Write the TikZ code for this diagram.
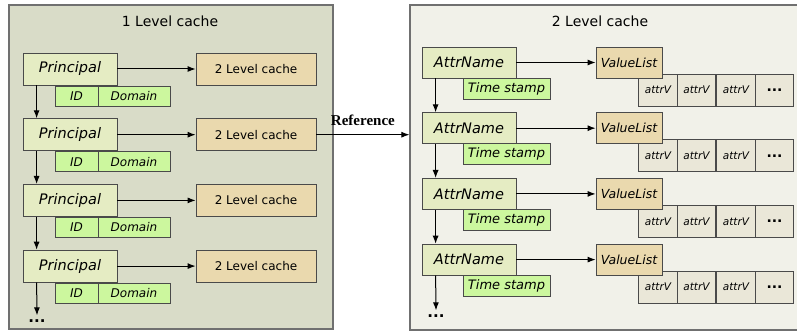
\documentclass[tikz,border=0pt]{standalone}
\usepackage{fontspec}
\setmainfont{DejaVu Sans}
\newfontfamily\reffont{Liberation Serif}
\usetikzlibrary{arrows.meta}
\definecolor{panelA}{HTML}{D9DCC8}
\definecolor{panelB}{HTML}{F1F1E9}
\definecolor{panelline}{HTML}{707070}
\definecolor{boxline}{HTML}{4A4A4A}
\definecolor{princfill}{HTML}{E5ECC3}
\definecolor{idfill}{HTML}{CCF79E}
\definecolor{cachefill}{HTML}{EAD9AE}
\definecolor{attrfill}{HTML}{EAE7D8}

\begin{document}
\begin{tikzpicture}[x=1pt,y=-1pt,
    panel/.style={draw=panelline,line width=1.2pt,inner sep=0pt},
    box/.style={draw=boxline,line width=0.8pt,inner sep=0pt},
    principal/.style={box,fill=princfill,minimum width=94pt,minimum height=32pt,font=\fontsize{14.5}{16}\selectfont\itshape},
    idbox/.style={box,fill=idfill,minimum height=20pt,font=\fontsize{12}{14}\selectfont\itshape},
    lvbox/.style={box,fill=cachefill,minimum width=120pt,minimum height=32pt,font=\fontsize{12}{14}\selectfont},
    vlist/.style={box,fill=cachefill,minimum width=66pt,minimum height=31pt,font=\fontsize{12.5}{14}\selectfont\itshape},
    attrv/.style={box,fill=attrfill,minimum width=38.5pt,minimum height=32pt,font=\fontsize{10.5}{12}\selectfont\itshape},
    dots/.style={inner sep=4pt,font=\fontsize{15}{17}\selectfont\bfseries},
    title/.style={font=\fontsize{14}{16}\selectfont},
    link/.style={line width=1pt,-{Latex[length=8pt,width=6pt]}}]
    \clip (0,0) rectangle (797,331);
    \useasboundingbox (0,0) rectangle (797,331);

    % panels
    \node[panel,fill=panelA,minimum width=324pt,minimum height=324pt] (lp) at (171,167) {};
    \node[panel,fill=panelB,minimum width=390pt,minimum height=325pt] (rp) at (605,167.5) {};
    \node[title] (t1) at (170,21) {1 Level cache};
    \node[title] (t2) at (600,21) {2 Level cache};

    % 1 level cache
    \foreach \i in {0,...,3}{
        \pgfmathsetmacro{\y}{69+65.7*\i}
        \node[principal] (p\i) at (70,\y) {Principal};
        \node[idbox,minimum width=43pt] (id\i) at (76.5,\y+27) {ID};
        \node[idbox,minimum width=72pt] (dom\i) at (134,\y+27) {Domain};
        \node[lvbox] (c\i) at (256,\y) {2 Level cache};
        \draw[link] (p\i.east) -- (c\i.west);
    }
    \foreach \i/\j in {0/1,1/2,2/3}
        \draw[link] ([xshift=14pt]p\i.south west) -- ([xshift=14pt]p\j.north west);
    \node[dots] (ld) at (37,321) {...};
    \draw[link] ([xshift=14pt]p3.south west) -- (ld.north);

    % 2 level cache
    \foreach \i in {0,...,3}{
        \pgfmathsetmacro{\y}{62.5+65.7*\i}
        \node[principal,minimum height=31pt] (a\i) at (469,\y) {AttrName};
        \node[idbox,minimum width=87pt,minimum height=21pt,font=\fontsize{13}{15}\selectfont\itshape] (ts\i) at (506.5,\y+26) {Time stamp};
        \node[attrv] (v\i1) at (658,\y+27.5) {attrV};
        \node[attrv] (v\i2) at (696.5,\y+27.5) {attrV};
        \node[attrv] (v\i3) at (736,\y+27.5) {attrV};
        \node[attrv,font=\fontsize{14}{16}\selectfont\bfseries] (v\i4) at (774.5,\y+27.5) {...};
        \node[vlist] (vl\i) at (629,\y) {ValueList};
        \draw[link] (a\i.east) -- (vl\i.west);
    }
    \foreach \i/\j in {0/1,1/2,2/3}
        \draw[link] ([xshift=14pt]a\i.south west) -- ([xshift=14pt]a\j.north west);
    \node[dots] (rd) at (436,316) {...};
    \draw[link] ([xshift=14pt]a3.south west) -- (rd.north);

    \draw[link] (c1.east) -- (c1.east -| rp.west) node[midway,above=5pt,font=\fontsize{15}{17}\selectfont\reffont\bfseries]{Reference};
\end{tikzpicture}
\end{document}
